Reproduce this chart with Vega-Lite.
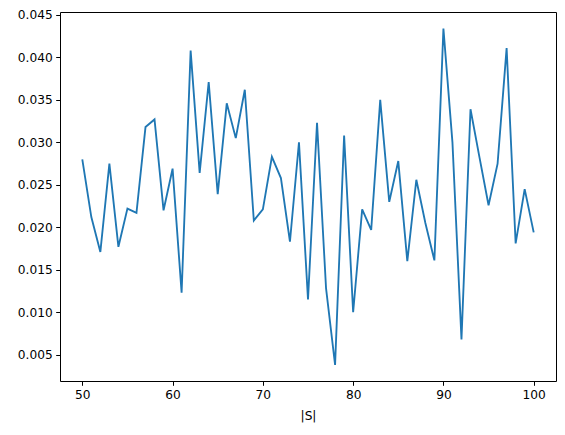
{
  "$schema": "https://vega.github.io/schema/vega-lite/v6.json",
  "width": 496,
  "height": 369,
  "autosize": {"type": "none"},
  "padding": {"left": 60, "top": 12, "right": 9, "bottom": 54},
  "background": "white",
  "config": {
    "view": {"stroke": "black", "strokeWidth": 1},
    "axis": {
      "grid": false,
      "domain": false,
      "tickColor": "black",
      "tickSize": 4.3,
      "tickWidth": 1,
      "labelFont": "DejaVu Sans",
      "labelFontSize": 12.2,
      "labelColor": "black",
      "labelPadding": 3.5,
      "titleFont": "DejaVu Sans",
      "titleFontSize": 12.2,
      "titleFontWeight": "normal",
      "titleColor": "black"
    }
  },
  "data": {
    "values": [
      {"s": 50, "v": 0.0280}, {"s": 51, "v": 0.0212}, {"s": 52, "v": 0.0171}, {"s": 53, "v": 0.0275},
      {"s": 54, "v": 0.0177}, {"s": 55, "v": 0.0222}, {"s": 56, "v": 0.0217}, {"s": 57, "v": 0.0318},
      {"s": 58, "v": 0.0327}, {"s": 59, "v": 0.0220}, {"s": 60, "v": 0.0269}, {"s": 61, "v": 0.0123},
      {"s": 62, "v": 0.0408}, {"s": 63, "v": 0.0264}, {"s": 64, "v": 0.0371}, {"s": 65, "v": 0.0239},
      {"s": 66, "v": 0.0346}, {"s": 67, "v": 0.0305}, {"s": 68, "v": 0.0362}, {"s": 69, "v": 0.0208},
      {"s": 70, "v": 0.0221}, {"s": 71, "v": 0.0283}, {"s": 72, "v": 0.0258}, {"s": 73, "v": 0.0183},
      {"s": 74, "v": 0.0300}, {"s": 75, "v": 0.0115}, {"s": 76, "v": 0.0323}, {"s": 77, "v": 0.0128},
      {"s": 78, "v": 0.0038}, {"s": 79, "v": 0.0308}, {"s": 80, "v": 0.0100}, {"s": 81, "v": 0.0221},
      {"s": 82, "v": 0.0197}, {"s": 83, "v": 0.0350}, {"s": 84, "v": 0.0230}, {"s": 85, "v": 0.0278},
      {"s": 86, "v": 0.0160}, {"s": 87, "v": 0.0256}, {"s": 88, "v": 0.0205}, {"s": 89, "v": 0.0161},
      {"s": 90, "v": 0.0434}, {"s": 91, "v": 0.0300}, {"s": 92, "v": 0.0068}, {"s": 93, "v": 0.0339},
      {"s": 94, "v": 0.0282}, {"s": 95, "v": 0.0226}, {"s": 96, "v": 0.0275}, {"s": 97, "v": 0.0411},
      {"s": 98, "v": 0.0181}, {"s": 99, "v": 0.0245}, {"s": 100, "v": 0.0194}
    ]
  },
  "mark": {"type": "line", "color": "#1f77b4", "strokeWidth": 1.85},
  "encoding": {
    "x": {
      "field": "s", "type": "quantitative", "title": "|S|",
      "scale": {"domain": [47.53, 102.47], "nice": false, "zero": false},
      "axis": {"values": [50, 60, 70, 80, 90, 100], "titlePadding": 8}
    },
    "y": {
      "field": "v", "type": "quantitative", "title": null,
      "scale": {"domain": [0.0019, 0.04535], "nice": false, "zero": false},
      "axis": {"values": [0.005, 0.01, 0.015, 0.02, 0.025, 0.03, 0.035, 0.04, 0.045], "format": ".3f"}
    }
  }
}
